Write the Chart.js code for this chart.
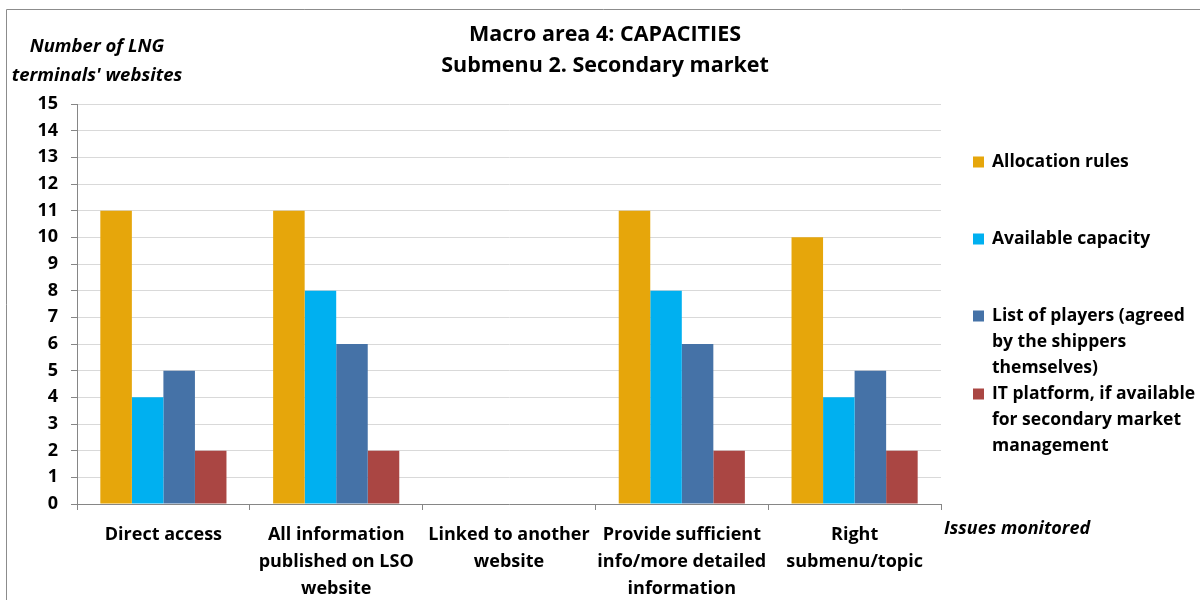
<!DOCTYPE html>
<html>
<head>
<meta charset="utf-8">
<script src="https://cdn.jsdelivr.net/npm/chart.js@4"></script>
<style>
html,body{margin:0;padding:0;background:#fff;}
#wrap{position:relative;width:1200px;height:600px;}
</style>
</head>
<body>
<div id="wrap"><canvas id="c" width="1200" height="600"></canvas></div>
<script>
const categories = [
  ["Direct access"],
  ["All information", "published on LSO", "website"],
  ["Linked to another", "website"],
  ["Provide sufficient", "info/more detailed", "information"],
  ["Right", "submenu/topic"]
];
const seriesNames = [
  ["Allocation rules"],
  ["Available capacity"],
  ["List of players (agreed", "by the shippers", "themselves)"],
  ["IT platform, if available", "for secondary market", "management"]
];
const allocationRules   = [11, 11, 0, 11, 10];
const availableCapacity = [4, 8, 0, 8, 4];
const listOfPlayers     = [5, 6, 0, 6, 5];
const itPlatform        = [2, 2, 0, 2, 2];
const yTicks = [0,1,2,3,4,5,6,7,8,9,10,11,12,13,14,15];
const titleLines = ["Macro area 4: CAPACITIES", "Submenu 2. Secondary market"];
const yTitleLines = ["Number of LNG", "terminals' websites"];
const xTitle = "Issues monitored";
const colors = ["#E6A60B", "#00B0F0", "#4572A7", "#AA4643"];

const FONT = "'Open Sans', sans-serif";

const extras = {
  id: 'extras',
  afterDraw(chart) {
    const ctx = chart.ctx;
    ctx.save();
    ctx.strokeStyle = '#8c8c8c';
    ctx.lineWidth = 1;
    ctx.beginPath();
    ctx.moveTo(6.5, 600);
    ctx.lineTo(6.5, 9.5);
    ctx.lineTo(1200, 9.5);
    ctx.stroke();
    ctx.fillStyle = '#000';
    ctx.textBaseline = 'middle';
    ctx.font = "bold 21.5px " + FONT;
    ctx.textAlign = 'center';
    ctx.fillText(titleLines[0], 605, 35);
    ctx.fillText(titleLines[1], 605, 66);
    ctx.font = "italic bold 18.5px " + FONT;
    ctx.fillText(yTitleLines[0], 97, 47);
    ctx.fillText(yTitleLines[1], 97, 76);
    ctx.textAlign = 'left';
    ctx.font = "italic bold 18px " + FONT;
    ctx.fillText(xTitle, 944, 529);
    const ys = [162, 239, 316, 394];
    ctx.font = "bold 17.5px " + FONT;
    chart.data.datasets.forEach((ds, i) => {
      ctx.fillStyle = ds.backgroundColor;
      ctx.fillRect(973, ys[i] - 5.5, 11, 11);
      ctx.fillStyle = '#000';
      seriesNames[i].forEach((t, j) => ctx.fillText(t, 992, ys[i] + j * 25.8));
    });
    ctx.restore();
  }
};

new Chart(document.getElementById('c'), {
  type: 'bar',
  data: {
    labels: categories,
    datasets: [
      { label: seriesNames[0].join(' '), data: allocationRules, backgroundColor: colors[0] },
      { label: seriesNames[1].join(' '), data: availableCapacity, backgroundColor: colors[1] },
      { label: seriesNames[2].join(' '), data: listOfPlayers, backgroundColor: colors[2] },
      { label: seriesNames[3].join(' '), data: itPlatform, backgroundColor: colors[3] }
    ]
  },
  options: {
    responsive: false,
    animation: false,
    devicePixelRatio: 1,
    layout: { padding: { left: 7, top: 104, right: 259, bottom: 0 } },
    datasets: { bar: { categoryPercentage: 0.73, barPercentage: 1.0, borderWidth: 0 } },
    plugins: { legend: { display: false }, tooltip: { enabled: false }, title: { display: false } },
    scales: {
      x: {
        afterFit: s => { s.height = 96; },
        grid: { display: true, drawOnChartArea: false, offset: true, tickLength: 6, color: '#868686' },
        border: { color: '#868686' },
        ticks: { color: '#000', font: { family: FONT, size: 18, weight: 'bold', lineHeight: 1.5 }, padding: 11, maxRotation: 0, autoSkip: false }
      },
      y: {
        min: 0, max: 15,
        afterFit: s => { s.width = 70; },
        afterBuildTicks: s => { s.ticks = yTicks.map(v => ({ value: v })); },
        grid: { color: '#d9d9d9', tickLength: 6, tickColor: '#868686' },
        border: { color: '#868686' },
        ticks: { color: '#000', font: { family: FONT, size: 18, weight: 'bold' }, padding: 13, stepSize: 1 }
      }
    }
  },
  plugins: [extras]
});
</script>
</body>
</html>
